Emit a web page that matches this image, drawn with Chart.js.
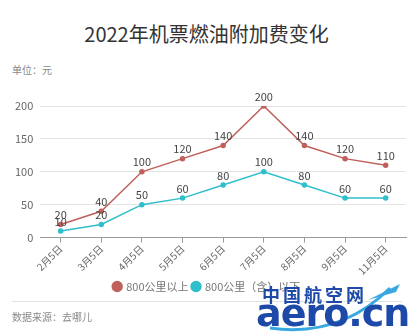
<!DOCTYPE html>
<html>
<head>
<meta charset="utf-8">
<script src="https://cdn.jsdelivr.net/npm/chart.js@4"></script>
<style>
  body { margin: 0; width: 413px; height: 336px; background: #fff; overflow: hidden;
         font-family: "Noto Sans CJK SC", "Noto Sans", sans-serif; position: relative; }
  #title { position: absolute; top: 20px; left: 0; width: 413px; text-align: center;
           font-size: 20px; color: #333; line-height: 28px; }
  #unit { position: absolute; top: 62px; left: 12px; font-size: 10px; color: #888; }
  #box { position: absolute; top: 84px; left: 0; width: 413px; height: 218px; }
  #sep { position: absolute; top: 301px; left: 12px; width: 390px; border-top: 1px solid #e2e2e2; }
  #source { position: absolute; top: 309px; left: 12px; font-size: 10px; color: #888; }
  #logo1 { position: absolute; top: 281px; left: 262px; font-size: 18px; font-weight: bold;
           color: #1d4aa8; letter-spacing: 3px; }
  #logo2 { position: absolute; top: 293px; left: 256px; font-size: 38px; font-weight: bold;
           color: #1d4aa8; font-family: "DejaVu Sans", sans-serif; letter-spacing: -1px; line-height: 40px; }
  #swoosh { position: absolute; top: 282px; left: 250px; }
</style>
</head>
<body>
<div id="title">2022年机票燃油附加费变化</div>
<div id="unit">单位：元</div>
<div id="box"><canvas id="chart"></canvas></div>
<div id="sep"></div>
<div id="source">数据来源：去哪儿</div>
<svg id="swoosh" width="163" height="54">
  <path d="M20 46 Q90 56 140 6" stroke="#3aa8e0" stroke-width="3" fill="none"/>
  <path d="M118 18 L150 2 L146 10 Z" fill="#3aa8e0"/>
</svg>
<div id="logo1">中国航空网</div>
<div id="logo2">aero.cn</div>
<script>
// data
const months = ["2月5日", "3月5日", "4月5日", "5月5日", "6月5日", "7月5日", "8月5日", "9月5日", "11月5日"];
const over800 = [20, 40, 100, 120, 140, 200, 140, 120, 110];
const under800 = [10, 20, 50, 60, 80, 100, 80, 60, 60];
const seriesNames = ["800公里以上", "800公里（含）以下"];
const yTicks = [0, 50, 100, 150, 200];

const font = "Noto Sans CJK SC";

// value labels above each point
const valueLabels = {
  id: "valueLabels",
  afterDatasetsDraw(chart) {
    const ctx = chart.ctx;
    ctx.save();
    ctx.font = "11px " + font;
    ctx.fillStyle = "#444";
    ctx.textAlign = "center";
    ctx.textBaseline = "bottom";
    chart.data.datasets.forEach((ds, i) => {
      chart.getDatasetMeta(i).data.forEach((pt, j) => {
        ctx.fillText(ds.data[j], pt.x, pt.y - 4);
      });
    });
    ctx.restore();
  }
};

new Chart(document.getElementById("chart"), {
  type: "line",
  data: {
    labels: months,
    datasets: [
      { label: seriesNames[0], data: over800, borderColor: "#c0605c", backgroundColor: "#c8524f",
        pointBackgroundColor: "#c0605c", borderWidth: 1.5, pointRadius: 2, fill: false, tension: 0 },
      { label: seriesNames[1], data: under800, borderColor: "#2fbfca", backgroundColor: "#1fb8d0",
        pointBackgroundColor: "#2fbfca", borderWidth: 1.5, pointRadius: 2, fill: false, tension: 0 }
    ]
  },
  options: {
    responsive: true,
    maintainAspectRatio: false,
    animation: false,
    layout: { padding: { top: 22, left: 8, right: 7, bottom: 0 } },
    plugins: {
      legend: {
        position: "bottom",
        labels: { usePointStyle: true, pointStyle: "circle", boxWidth: 7, boxHeight: 7,
                  color: "#777", font: { family: font, size: 11 }, padding: 4 }
      },
      tooltip: { enabled: false }
    },
    scales: {
      x: {
        offset: true,
        grid: { drawOnChartArea: false, offset: false, tickLength: 5, color: "#999" },
        border: { color: "#999" },
        ticks: { maxRotation: 45, minRotation: 45, color: "#666", font: { family: font, size: 10 }, padding: 0 }
      },
      y: {
        min: 0, max: 200,
        afterBuildTicks: axis => { axis.ticks = yTicks.map(v => ({ value: v })); },
        grid: { color: "#e3e3e3", drawTicks: false },
        border: { display: false },
        ticks: { color: "#666", font: { family: font, size: 11 }, padding: 7 }
      }
    }
  },
  plugins: [valueLabels]
});
</script>
</body>
</html>
